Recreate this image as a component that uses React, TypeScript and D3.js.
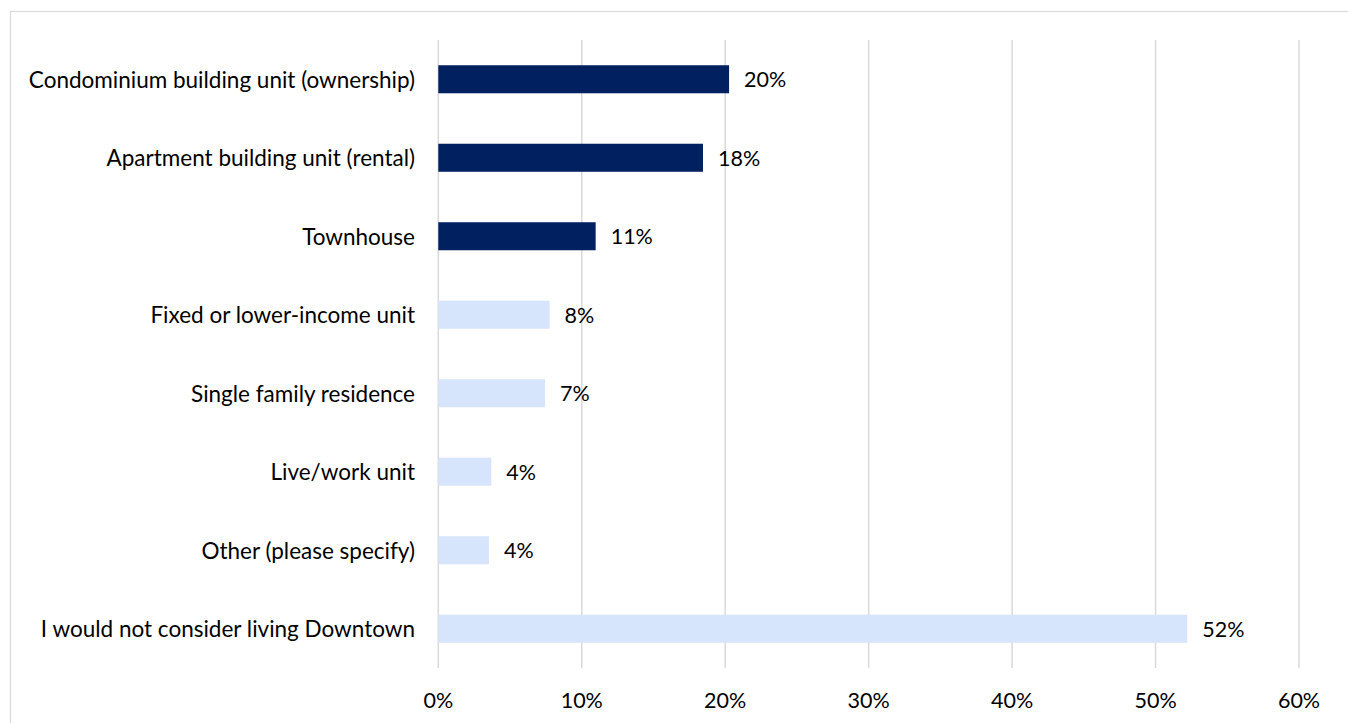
import React from "react";
import * as d3 from "d3";

const categories = [
  "Condominium building unit (ownership)",
  "Apartment building unit (rental)",
  "Townhouse",
  "Fixed or lower-income unit",
  "Single family residence",
  "Live/work unit",
  "Other (please specify)",
  "I would not consider living Downtown",
];
const values = [20.27, 18.45, 10.97, 7.76, 7.44, 3.69, 3.53, 52.21];
const labels = ["20%", "18%", "11%", "8%", "7%", "4%", "4%", "52%"];
const highlighted = [true, true, true, false, false, false, false, false];
const ticks = [0, 10, 20, 30, 40, 50, 60];

const W = 1348;
const H = 723;
const FONT = "Lato, 'Open Sans', sans-serif";

export default function App() {
  const x = d3.scaleLinear().domain([0, 60]).range([438.3, 1299]);
  const y = d3
    .scaleBand<string>()
    .domain(categories)
    .range([40, 668])
    .paddingInner(0.643)
    .paddingOuter(0.3215);

  return (
    <div style={{ position: "absolute", left: 0, top: 0 }}>
      <svg width={W} height={H} style={{ display: "block" }}>
        <rect x={0} y={0} width={W} height={H} fill="#fff" />
        <rect
          x={10.5}
          y={11.5}
          width={W + 20}
          height={H + 20}
          fill="none"
          stroke="#D9D9D9"
          strokeWidth={1.2}
        />
        {ticks.map((t) => (
          <g key={t}>
            <line
              x1={x(t)}
              x2={x(t)}
              y1={40}
              y2={668}
              stroke="#D9D9D9"
              strokeWidth={1.5}
            />
            <text
              x={x(t)}
              y={700}
              textAnchor="middle"
              dominantBaseline="central"
              fontFamily={FONT}
              fontSize={21.5}
              fill="#000"
            >
              {t}%
            </text>
          </g>
        ))}
        {categories.map((c, i) => {
          const yy = y(c)!;
          const bw = y.bandwidth();
          return (
            <g key={c}>
              <rect
                x={x(0)}
                y={yy}
                width={x(values[i]) - x(0)}
                height={bw}
                fill={highlighted[i] ? "#002060" : "#D6E4FC"}
              />
              <text
                x={415}
                y={yy + bw / 2}
                textAnchor="end"
                dominantBaseline="central"
                fontFamily={FONT}
                fontSize={22.5}
                fill="#000"
              >
                {c}
              </text>
              <text
                x={x(values[i]) + 15}
                y={yy + bw / 2}
                dominantBaseline="central"
                fontFamily={FONT}
                fontSize={21.5}
                fill="#000"
              >
                {labels[i]}
              </text>
            </g>
          );
        })}
      </svg>
    </div>
  );
}
